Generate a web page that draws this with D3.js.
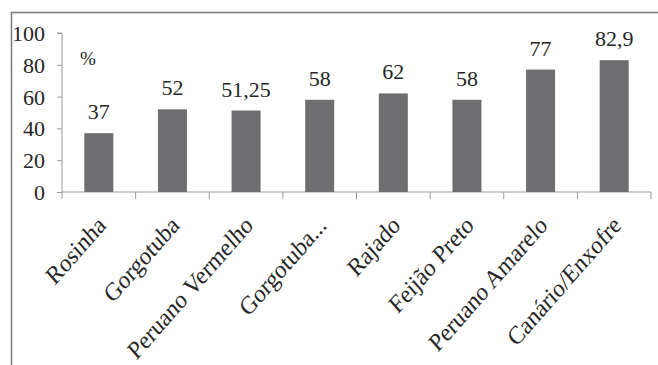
<!DOCTYPE html>
<html><head><meta charset="utf-8">
<script src="https://cdn.jsdelivr.net/npm/d3@7"></script>
<style>body{margin:0;background:#fff}svg{display:block}
svg text{font-family:"Liberation Serif","Times New Roman",serif !important;}</style>
</head><body>
<script>
const categories = ["Rosinha","Gorgotuba","Peruano Vermelho","Gorgotuba...","Rajado","Feijão Preto","Peruano Amarelo","Canário/Enxofre"];
const values = [37,52,51.25,58,62,58,77,82.9];
const valueLabels = ["37","52","51,25","58","62","58","77","82,9"];
const yTicks = [0,20,40,60,80,100];
const unitLabel = "%";

const W=658,H=365;
const svg=d3.select("body").append("svg").attr("width",W).attr("height",H);
const txt="#262626", axisCol="#9a9a9a", barCol="#6e6e70";

svg.append("rect").attr("x",11.5).attr("y",12.5).attr("width",700).attr("height",400)
  .attr("fill","none").attr("stroke","#7a7a7a").attr("stroke-width",1.5);

const x0=62,x1=651,yB=192,yT=33;
const x=d3.scaleBand().domain(categories).range([x0,x1]).paddingInner(0.606).paddingOuter(0.303);
const y=d3.scaleLinear().domain([0,100]).range([yB,yT]);

// y axis
const ya=svg.append("g").attr("transform",`translate(${x0},0)`)
  .call(d3.axisLeft(y).tickValues(yTicks).tickSize(5).tickPadding(12));
ya.attr("font-family",null);
ya.select(".domain").attr("stroke",axisCol).attr("d",`M-5,${yT}H0V${yB}`);
ya.selectAll(".tick line").attr("stroke",axisCol);
ya.selectAll(".tick text").attr("font-size",22).attr("fill",txt).attr("dy","0.34em");

// x axis
const xa=svg.append("g").attr("transform",`translate(0,${yB})`);
xa.append("line").attr("x1",x0).attr("x2",x1).attr("y1",0).attr("y2",0).attr("stroke",axisCol);
const step=x.step();
const tickPos=d3.range(categories.length+1).map(i=>x0+i*step);
xa.selectAll("line.t").data(tickPos).enter().append("line").attr("class","t")
  .attr("x1",d=>d).attr("x2",d=>d).attr("y1",0).attr("y2",7).attr("stroke",axisCol);

xa.selectAll("text.c").data(categories).enter().append("text").attr("class","c")
  .attr("transform",d=>`translate(${x(d)+x.bandwidth()/2-3},${22}) scale(1,1.14) rotate(-45)`)
  .attr("text-anchor","end").attr("font-size",22.5).attr("fill",txt)
  .attr("dy","0.7em").text(d=>d);

// bars
svg.selectAll("rect.bar").data(categories).enter().append("rect").attr("class","bar")
  .attr("x",d=>x(d)).attr("width",x.bandwidth())
  .attr("y",(d,i)=>y(values[i])).attr("height",(d,i)=>yB-y(values[i]))
  .attr("fill",barCol);

svg.selectAll("text.v").data(categories).enter().append("text").attr("class","v")
  .attr("x",d=>x(d)+x.bandwidth()/2).attr("y",(d,i)=>y(values[i])-14)
  .attr("text-anchor","middle").attr("font-size",22).attr("fill",txt)
  .text((d,i)=>valueLabels[i]);

svg.append("text").attr("x",80).attr("y",65).attr("font-size",19)
  .attr("fill",txt).text(unitLabel);
</script>
</body></html>
